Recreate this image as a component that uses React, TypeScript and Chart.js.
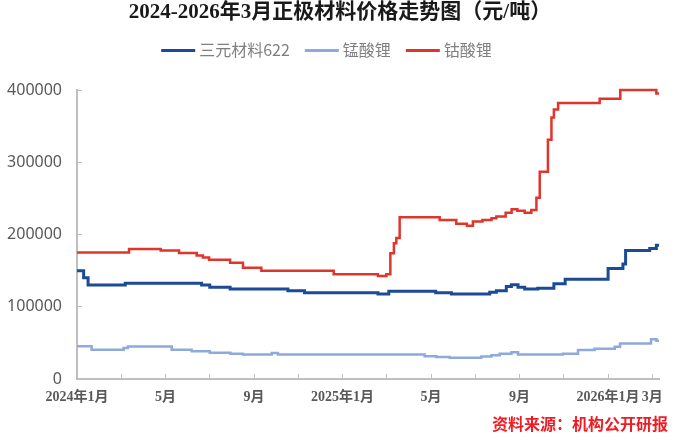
import React, { useEffect, useRef } from "react";
import { Chart, registerables } from "chart.js";

Chart.register(...registerables);

// ---- text ----
const chartTitle = "2024-2026年3月正极材料价格走势图（元/吨）";
const sourceNote = "资料来源：机构公开研报";

// ---- axis ticks (x in months since 2024-01) ----
const xTickMonths = [0, 2, 4, 6, 8, 10, 12, 14, 16, 18, 20, 22, 24, 26];
const xTickLabels = ["2024年1月", "", "5月", "", "9月", "", "2025年1月", "", "5月", "", "9月", "", "2026年1月", "3月"];
const yTicks = [0, 100000, 200000, 300000, 400000];

// ---- series: change points (month, price) ----
const ternaryName = "三元材料622";
const ternaryMonths = [0, 0.3, 0.5, 2.18, 5.63, 6.0, 6.92, 9.53, 10.28, 13.6, 14.09, 16.21, 16.92, 18.65, 18.95, 19.4, 19.63, 19.93, 20.23, 20.82, 21.55, 22.06, 24.0, 24.67, 24.79, 25.88, 26.18, 26.3];
const ternaryValues = [150000, 140000, 130000, 132500, 130000, 127000, 124500, 122000, 119500, 117500, 121500, 119500, 117500, 120000, 122000, 128000, 130500, 127000, 124500, 125500, 132000, 138000, 153000, 159000, 178000, 180500, 185000, 185000];

const lmoName = "锰酸锂";
const lmoMonths = [0, 0.66, 2.11, 2.3, 4.28, 5.18, 6.0, 6.93, 7.5, 8.8, 9.08, 15.71, 16.24, 16.84, 18.27, 18.73, 19.1, 19.63, 19.93, 21.96, 22.64, 23.39, 24.3, 24.54, 25.94, 26.18, 26.3];
const lmoValues = [45500, 40500, 43000, 45000, 40500, 38500, 36500, 35000, 34000, 36000, 34000, 31500, 30500, 29500, 31000, 33000, 35000, 37000, 34000, 35000, 40000, 42000, 44500, 49000, 55000, 53000, 53000];

const lcoName = "钴酸锂";
const lcoMonths = [0, 2.35, 3.78, 4.61, 5.41, 5.69, 5.97, 6.92, 7.5, 8.33, 11.6, 13.6, 13.98, 14.16, 14.32, 14.43, 14.58, 16.39, 17.14, 17.62, 17.89, 18.32, 18.73, 18.95, 19.37, 19.64, 19.9, 20.23, 20.53, 20.76, 20.91, 21.28, 21.44, 21.55, 21.74, 23.62, 24.55, 26.18, 26.3];
const lcoValues = [175000, 180000, 178000, 174500, 171000, 168000, 165000, 161000, 154000, 150000, 145000, 142500, 145000, 174000, 188000, 195000, 224000, 220000, 215000, 212000, 218000, 220000, 222500, 225000, 230000, 235000, 233000, 230000, 234000, 251000, 287000, 331000, 362000, 373000, 382000, 388000, 400000, 395000, 395000];

const toPoints = (months: number[], values: number[]) => months.map((m, i) => ({ x: m, y: values[i] }));

const AXIS_GRAY = "#BFBFBF";
const LABEL_GRAY = "#595959";

const overlayPlugin = {
  id: "overlay",
  afterDraw(chart: any) {
    const ctx: CanvasRenderingContext2D = chart.ctx;
    ctx.save();
    // title
    ctx.font = "bold 21px 'Liberation Serif', 'Noto Sans CJK SC'";
    ctx.fillStyle = "#1A1A1A";
    ctx.textAlign = "center";
    ctx.textBaseline = "middle";
    ctx.fillText(chartTitle, 340, 13);

    // legend
    ctx.font = "16px 'Noto Sans CJK SC'";
    const items = chart.data.datasets.map((ds: any) => ({
      label: ds.label as string,
      color: ds.borderColor as string,
      w: ctx.measureText(ds.label).width,
    }));
    const sample = 34, gapText = 4, gapItem = 15;
    const total = items.reduce((s: number, it: any) => s + sample + gapText + it.w, 0) + gapItem * (items.length - 1);
    let x = 326.5 - total / 2;
    const y = 50.5;
    for (const it of items) {
      ctx.strokeStyle = it.color;
      ctx.lineWidth = 3;
      ctx.beginPath();
      ctx.moveTo(x, y);
      ctx.lineTo(x + sample, y);
      ctx.stroke();
      ctx.fillStyle = "#7F7F7F";
      ctx.textAlign = "left";
      ctx.fillText(it.label, x + sample + gapText, y - 0.5);
      x += sample + gapText + it.w + gapItem;
    }

    // source note
    ctx.font = "bold 16px 'Liberation Serif', 'Noto Sans CJK SC'";
    ctx.fillStyle = "#EE1C25";
    ctx.textAlign = "right";
    ctx.fillText(sourceNote, 668, 425.5);
    ctx.restore();
  },
};

export default function App() {
  const canvasRef = useRef<HTMLCanvasElement | null>(null);

  useEffect(() => {
    if (!canvasRef.current) return;
    const chart = new Chart(canvasRef.current, {
      type: "line",
      data: {
        datasets: [
          {
            label: ternaryName,
            data: toPoints(ternaryMonths, ternaryValues),
            borderColor: "#1B4A97",
            backgroundColor: "#1B4A97",
            borderWidth: 3,
            stepped: true,
            pointRadius: 0,
            clip: false,
          },
          {
            label: lmoName,
            data: toPoints(lmoMonths, lmoValues),
            borderColor: "#8EA9DB",
            backgroundColor: "#8EA9DB",
            borderWidth: 2.5,
            stepped: true,
            pointRadius: 0,
            clip: false,
          },
          {
            label: lcoName,
            data: toPoints(lcoMonths, lcoValues),
            borderColor: "#E0352B",
            backgroundColor: "#E0352B",
            borderWidth: 2.5,
            stepped: true,
            pointRadius: 0,
            clip: false,
          },
        ],
      },
      options: {
        responsive: false,
        animation: false,
        layout: { padding: { top: 90, right: 41, bottom: 0, left: 0 } },
        plugins: {
          legend: { display: false },
          title: { display: false },
          tooltip: { enabled: false },
        },
        scales: {
          x: {
            type: "linear",
            min: 0,
            max: 26.3,
            afterBuildTicks: (s: any) => {
              s.ticks = xTickMonths.map((v) => ({ value: v }));
            },
            afterFit: (s: any) => {
              s.height = 60;
            },
            grid: { display: true, drawOnChartArea: false, drawTicks: true, tickLength: -5, color: AXIS_GRAY, lineWidth: 1 },
            border: { display: true, color: AXIS_GRAY, width: 2 },
            ticks: {
              autoSkip: false,
              maxRotation: 0,
              minRotation: 0,
              padding: 15,
              color: LABEL_GRAY,
              font: { family: "'Liberation Serif', 'Noto Sans CJK SC'", size: 14, weight: "bold" },
              callback: (v: any) => {
                const i = xTickMonths.indexOf(Number(v));
                return i >= 0 ? xTickLabels[i] : "";
              },
            },
          },
          y: {
            min: 0,
            max: 400000,
            afterBuildTicks: (s: any) => {
              s.ticks = yTicks.map((v) => ({ value: v }));
            },
            afterFit: (s: any) => {
              s.width = 77;
            },
            grid: { display: true, drawOnChartArea: false, drawTicks: true, tickLength: -5, color: AXIS_GRAY, lineWidth: 1 },
            border: { display: true, color: AXIS_GRAY, width: 2 },
            ticks: {
              padding: 20,
              color: LABEL_GRAY,
              font: { family: "'Noto Sans', 'Noto Sans CJK SC'", size: 16 },
              callback: (v: any) => String(v),
            },
          },
        },
      },
      plugins: [overlayPlugin],
    });
    return () => chart.destroy();
  }, []);

  return (
    <div style={{ position: "fixed", left: 0, top: 0, width: 700, height: 439, background: "#fff" }}>
      <canvas ref={canvasRef} width={700} height={439} style={{ display: "block" }} />
    </div>
  );
}
